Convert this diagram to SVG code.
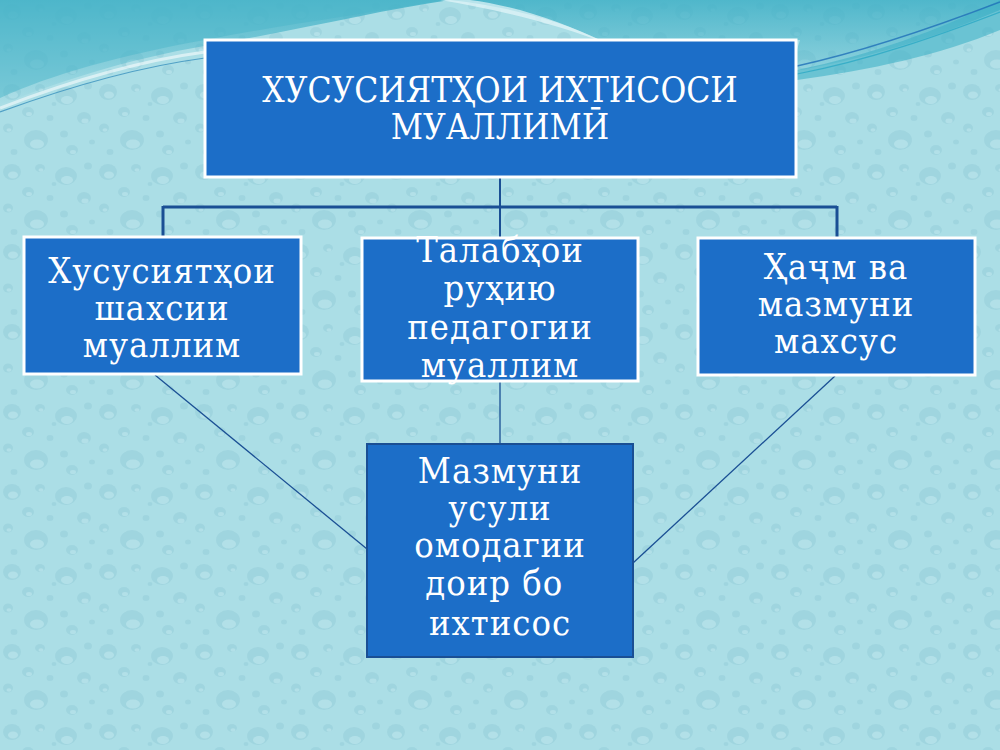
<svg xmlns="http://www.w3.org/2000/svg" width="1000" height="750" viewBox="0 0 1000 750">
<defs>
<style>
.box{fill:#1c6ec8;stroke:#ffffff;stroke-width:3}
.box2{fill:#1c6ec8;stroke:#1a4f94;stroke-width:2}
.t{font-family:'DejaVu Serif Condensed','DejaVu Serif',serif;font-stretch:condensed;fill:#ffffff;text-anchor:middle}
.title{font-size:35px}
.body{font-size:36px;letter-spacing:1px}
.bar{stroke:#1a4f94;stroke-width:3;fill:none}
.thin{stroke:#1a4f94;stroke-width:1.3;fill:none}
.d{fill:#93ccd7;opacity:0.5}
.h{fill:#c6ebf1;opacity:0.5}
</style>
<pattern id="drops" width="96" height="80" patternUnits="userSpaceOnUse">
<ellipse class="d" cx="12" cy="12" rx="9" ry="8"/><ellipse class="h" cx="13" cy="15" rx="5" ry="3.5"/>
<ellipse class="d" cx="40" cy="8" rx="5" ry="4"/><ellipse class="h" cx="41" cy="10" rx="2.5" ry="1.8"/>
<ellipse class="d" cx="66" cy="16" rx="11" ry="9"/><ellipse class="h" cx="67" cy="20" rx="6" ry="4"/>
<ellipse class="d" cx="88" cy="6" rx="4" ry="3.5"/>
<ellipse class="d" cx="28" cy="32" rx="6" ry="5"/><ellipse class="h" cx="29" cy="34" rx="3" ry="2"/>
<ellipse class="d" cx="50" cy="38" rx="3.5" ry="3"/>
<ellipse class="d" cx="84" cy="38" rx="7" ry="6"/><ellipse class="h" cx="85" cy="41" rx="3.5" ry="2.4"/>
<ellipse class="d" cx="8" cy="48" rx="5" ry="4.5"/><ellipse class="h" cx="9" cy="50" rx="2.5" ry="1.8"/>
<ellipse class="d" cx="36" cy="60" rx="12" ry="10"/><ellipse class="h" cx="37" cy="64" rx="7" ry="4.5"/>
<ellipse class="d" cx="64" cy="54" rx="4" ry="3.5"/>
<ellipse class="d" cx="72" cy="70" rx="6" ry="5"/><ellipse class="h" cx="73" cy="72" rx="3" ry="2"/>
<ellipse class="d" cx="14" cy="72" rx="3.5" ry="3"/>
<ellipse class="d" cx="92" cy="62" rx="3" ry="2.5"/>
<ellipse class="d" cx="54" cy="24" rx="2.5" ry="2"/>
</pattern>
<linearGradient id="topg" x1="0" y1="0" x2="0" y2="1">
<stop offset="0" stop-color="#3fb0c6" stop-opacity="0.85"/>
<stop offset="1" stop-color="#3fb0c6" stop-opacity="0"/>
</linearGradient>
</defs>
<g id="background">
<rect x="0" y="0" width="1000" height="750" fill="#abdee6"/>
<rect x="0" y="0" width="1000" height="750" fill="url(#drops)"/>
<path d="M0,0 H1000 V10 C930,40 860,60 790,72 L800,40 C700,45 640,40 600,40 C560,20 500,5 450,0 C380,10 300,30 210,45 C120,60 50,85 0,105 Z" fill="url(#topg)"/>
<path d="M0,0 H440 C360,15 280,25 205,40 C120,55 50,75 0,98 Z" fill="#4cb6ca" opacity="0.5"/>
<path d="M440,0 C500,10 560,25 610,45 C560,20 510,5 470,0 Z" fill="#e6f6f9" opacity="0.7"/>
<path d="M0,108 C60,85 130,62 205,52" stroke="#ffffff" stroke-width="3" fill="none" opacity="0.55"/>
<path d="M0,112 C60,90 130,68 205,58" stroke="#2a86b8" stroke-width="1.2" fill="none" opacity="0.7"/>
<path d="M797,70 C870,55 940,30 1000,0 V30 C940,55 870,70 797,80 Z" fill="#3fb0c6" opacity="0.6"/>
<path d="M797,66 C870,50 940,25 1000,2" stroke="#1f6fb8" stroke-width="1.5" fill="none" opacity="0.8"/>
<path d="M797,74 C870,60 940,35 1000,12" stroke="#2ca9c4" stroke-width="1.2" fill="none" opacity="0.8"/>
</g>
<g id="connectors">
<line class="thin" x1="500" y1="178" x2="500" y2="207" style="stroke-width:2"/>
<line class="bar" x1="163" y1="207" x2="837" y2="207"/>
<line class="bar" x1="163" y1="206" x2="163" y2="237"/>
<line class="bar" x1="837" y1="206" x2="837" y2="237"/>
<line class="thin" x1="500" y1="207" x2="500" y2="237" style="stroke-width:2"/>
<line class="thin" x1="500" y1="382" x2="500" y2="444"/>
<line class="thin" x1="155" y1="375" x2="367" y2="549"/>
<line class="thin" x1="835" y1="376" x2="633" y2="563"/>
</g>
<g id="node-top">
<rect class="box" x="205" y="40" width="591" height="137"/>
<text class="t title" x="500" y="102">ХУСУСИЯТҲОИ ИХТИСОСИ</text>
<text class="t title" x="500" y="139">МУАЛЛИМӢ</text>
</g>
<g id="node-left">
<rect class="box" x="24" y="237" width="277" height="137"/>
<text class="t body" x="162" y="283">Хусусиятҳои</text>
<text class="t body" x="162" y="320">шахсии</text>
<text class="t body" x="162" y="357">муаллим</text>
</g>
<g id="node-middle">
<rect class="box" x="362" y="238" width="276" height="143"/>
<text class="t body" x="500" y="262">Талабҳои</text>
<text class="t body" x="500" y="300">руҳию</text>
<text class="t body" x="500" y="339">педагогии</text>
<text class="t body" x="500" y="377">муаллим</text>
</g>
<g id="node-right">
<rect class="box" x="698" y="238" width="277" height="137"/>
<text class="t body" x="836" y="279">Ҳаҷм ва</text>
<text class="t body" x="836" y="316">мазмуни</text>
<text class="t body" x="836" y="353">махсус</text>
</g>
<g id="node-bottom">
<rect class="box2" x="367" y="444" width="266" height="213"/>
<text class="t body" x="500" y="483">Мазмуни</text>
<text class="t body" x="500" y="520">усули</text>
<text class="t body" x="500" y="557">омодагии</text>
<text class="t body" x="500" y="595" xml:space="preserve">доир бо </text>
<text class="t body" x="500" y="635">ихтисос</text>
</g>
</svg>
